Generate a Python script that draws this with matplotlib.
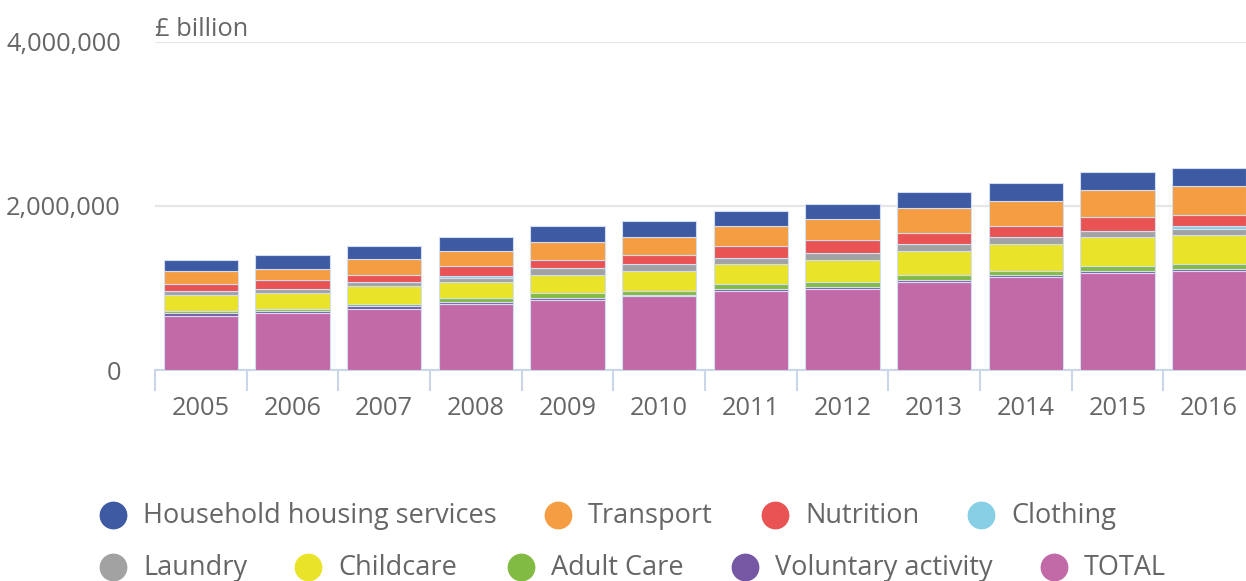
import numpy as np
import matplotlib
matplotlib.use('Agg')
import matplotlib.pyplot as plt
from matplotlib.lines import Line2D
from matplotlib.ticker import FuncFormatter

plt.rcParams['font.family'] = ['Open Sans', 'DejaVu Sans']

years = ['2005', '2006', '2007', '2008', '2009', '2010',
         '2011', '2012', '2013', '2014', '2015', '2016']

# values (stacked, bottom to top)
total = [658000, 699000, 748000, 805000, 854000, 906000,
         967000, 988000, 1077000, 1130000, 1183000, 1211000]
voluntary = [33000, 24000, 33000, 24000, 28000, 6000,
             24000, 28000, 24000, 24000, 24000, 24000]
adult_care = [28000, 21000, 21000, 52000, 53000, 53000,
              53000, 57000, 53000, 53000, 57000, 53000]
childcare = [191000, 191000, 220000, 191000, 220000, 244000,
             248000, 272000, 301000, 329000, 358000, 358000]
laundry = [52000, 52000, 52000, 52000, 85000, 85000,
           77000, 82000, 82000, 85000, 77000, 77000]
clothing = [0, 0, 0, 28000, 0, 0, 0, 0, 0, 0, 0, 33000]
nutrition = [82000, 110000, 82000, 114000, 102000, 106000,
             138000, 162000, 138000, 134000, 167000, 134000]
transport = [162000, 138000, 195000, 187000, 224000, 224000,
             248000, 248000, 301000, 301000, 325000, 358000]
housing = [134000, 167000, 162000, 163000, 191000, 187000,
           187000, 191000, 191000, 220000, 220000, 220000]

stack = [
    ('TOTAL', total, '#c26aa7'),
    ('Voluntary activity', voluntary, '#7557a3'),
    ('Adult Care', adult_care, '#82bb44'),
    ('Childcare', childcare, '#e9e42a'),
    ('Laundry', laundry, '#a2a2a2'),
    ('Clothing', clothing, '#86cfe5'),
    ('Nutrition', nutrition, '#e95353'),
    ('Transport', transport, '#f59d42'),
    ('Household housing services', housing, '#3d5aa3'),
]

W, H = 1246, 581
fig = plt.figure(figsize=(W / 100, H / 100), dpi=100)
ax = fig.add_axes([155 / W, (H - 370) / H, 1100 / W, 328 / H])

x = np.arange(len(years))
bottom = np.zeros(len(years))
for name, vals, col in stack:
    ax.bar(x, vals, width=0.81, bottom=bottom, color=col,
           edgecolor='#d4dcef', linewidth=0.8, zorder=3)
    bottom += np.array(vals)

ax.set_xlim(-0.5, len(years) - 0.5)
ax.set_ylim(0, 4000000)
ax.set_yticks([0, 2000000, 4000000])
ax.yaxis.set_major_formatter(FuncFormatter(lambda v, p: f'{int(v):,}'))
ax.tick_params(axis='y', length=0, pad=24.5, labelsize=18.3, labelcolor='#666666')
ax.grid(axis='y', color='#e6e6e6', linewidth=1.6, zorder=0)

ax.set_xticks(x)
ax.set_xticklabels(years)
ax.tick_params(axis='x', which='major', length=0, pad=19, labelsize=18.3,
               labelcolor='#666666')
ax.set_xticks(np.arange(-0.5, len(years), 1), minor=True)
ax.tick_params(axis='x', which='minor', length=15, width=1.5, color='#ccd6eb',
               direction='out')

for s in ['top', 'right', 'left']:
    ax.spines[s].set_visible(False)
ax.spines['bottom'].set_color('#ccd6eb')
ax.spines['bottom'].set_linewidth(1.5)

fig.text(155 / W, 1 - 29 / H, '£ billion', fontsize=18.3, color='#666666',
         ha='left', va='center')

# legend laid out like the original (flowing rows)
legend_items = [
    ('Household housing services', '#3d5aa3', 113, 515),
    ('Transport', '#f59d42', 558, 515),
    ('Nutrition', '#e95353', 775, 515),
    ('Clothing', '#86cfe5', 981, 515),
    ('Laundry', '#a2a2a2', 113, 567),
    ('Childcare', '#e9e42a', 308, 567),
    ('Adult Care', '#82bb44', 521, 567),
    ('Voluntary activity', '#7557a3', 745, 567),
    ('TOTAL', '#c26aa7', 1054, 567),
]
for name, col, px, py in legend_items:
    fig.add_artist(Line2D([px / W], [1 - py / H], marker='o', markersize=19,
                          color=col, linestyle='none',
                          transform=fig.transFigure))
    fig.text((px + 30) / W, 1 - (py + 1) / H, name, fontsize=19.5,
             color='#666666', ha='left', va='center')

fig.savefig('out.png', dpi=100)
